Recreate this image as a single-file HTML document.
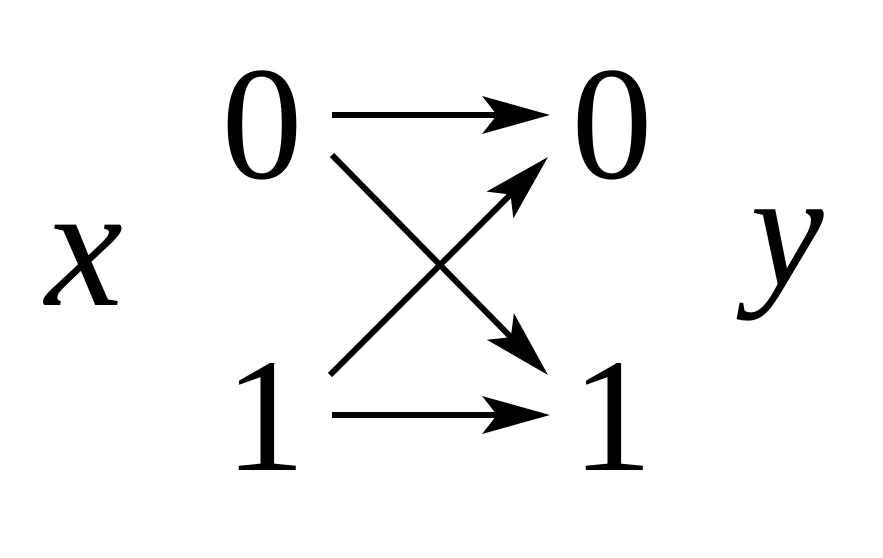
<!DOCTYPE html>
<html><head><meta charset="utf-8"><style>
html,body{margin:0;padding:0;background:#fff;}
svg{display:block;}
text{font-family:"Liberation Serif",serif;fill:#000;}
</style></head><body>
<svg width="883" height="558" viewBox="0 0 883 558">
<text x="84" y="305" font-size="175" font-style="italic" text-anchor="middle">x</text>
<text x="787" y="285" font-size="165" font-style="italic" text-anchor="middle">y</text>
<text x="262" y="178" font-size="162" text-anchor="middle">0</text>
<text x="265" y="470" font-size="162" text-anchor="middle">1</text>
<text x="612" y="178" font-size="162" text-anchor="middle">0</text>
<text x="612" y="470" font-size="162" text-anchor="middle">1</text>
<g id="arrows"></g>
</svg>
<script>
const g=document.getElementById('arrows');
const ns='http://www.w3.org/2000/svg';
const arrows=[
 ['arrow-0-to-0',332,115,550,115],
 ['arrow-1-to-1',332,415,550,415],
 ['arrow-0-to-1',332,155,548,375],
 ['arrow-1-to-0',330,375,548,157]
];
arrows.forEach(a=>{
 const [name,x1,y1,x2,y2]=a;
 const dx=x2-x1,dy=y2-y1,len=Math.hypot(dx,dy),ux=dx/len,uy=dy/len,nx=-uy,ny=ux;
 const L=68,W=19;
 const grp=document.createElementNS(ns,'g');
 
 
 const ln=document.createElementNS(ns,'line');
 ln.setAttribute('x1',x1);ln.setAttribute('y1',y1);
 ln.setAttribute('x2',x2-ux*L*0.7);ln.setAttribute('y2',y2-uy*L*0.7);
 ln.setAttribute('stroke','#000');ln.setAttribute('stroke-width','6');
 grp.appendChild(ln);
 const p=document.createElementNS(ns,'polygon');
 const pts=[[x2,y2],[x2-ux*L+nx*W,y2-uy*L+ny*W],[x2-ux*L*0.78,y2-uy*L*0.78],[x2-ux*L-nx*W,y2-uy*L-ny*W]];
 p.setAttribute('points',pts.map(q=>q.join(',')).join(' '));
 p.setAttribute('fill','#000');
 
 
 grp.appendChild(p);
 g.appendChild(grp);
});
</script>
</body></html>
